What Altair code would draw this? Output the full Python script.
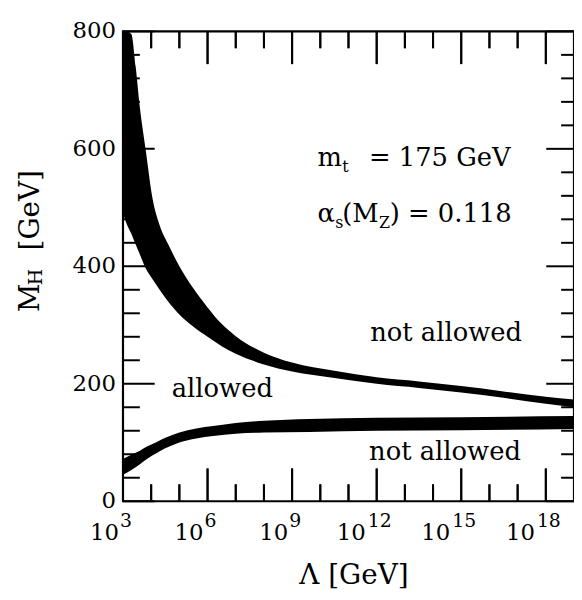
import altair as alt
import pandas as pd

FONT = "DejaVu Serif"

# ---- data ----
# upper band (triviality bound): log10(Lambda/GeV), lower and upper edge in GeV
tri_exp = [3.0, 3.15, 3.3, 3.45, 3.6, 3.8, 4.05, 4.3, 4.6, 5.0, 5.5, 6.0, 6.5, 7.0, 8.0, 9.0, 10.5, 12.0, 13.5, 15.0, 16.5, 18.0, 19.0]
tri_hi = [800, 800, 795, 740, 670, 600, 515, 470, 438, 400, 362, 330, 302, 281, 253, 236, 222, 211, 204, 196, 187, 178, 173]
tri_lo = [490, 470, 455, 437, 420, 397, 378, 360, 340, 318, 297, 280, 264, 251, 233, 221, 210, 200, 193, 185, 176, 166, 160]

# lower band (vacuum stability bound)
vac_exp = [3.0, 3.3, 3.6, 3.85, 4.2, 4.5, 5.0, 5.6, 6.2, 7.0, 8.0, 9.6, 12.0, 15.0, 19.0]
vac_lo = [45, 53, 63, 72, 82, 90, 100, 107, 111, 115, 117, 118, 120, 121, 123]
vac_hi = [72, 79, 86, 93, 101, 108, 117, 124, 128, 133, 137, 140, 142, 143, 145]

# axes
x_major_exp = [3, 6, 9, 12, 15, 18]
x_minor_exp = [4, 5, 7, 8, 10, 11, 13, 14, 16, 17]
y_major = [0, 200, 400, 600, 800]
y_minor = [40, 80, 120, 160, 240, 280, 320, 360, 440, 480, 520, 560, 640, 680, 720, 760]

# annotation texts (anchor: log10 Lambda, M_H)
region_text = ["allowed", "not allowed", "not allowed"]
region_exp = [4.73, 11.77, 11.73]
region_mh = [191, 287, 84]
param_exp = 9.9
param_mh = [584, 489]

W, H = 455, 474
X_LO, X_HI = 3, 19
Y_LO, Y_HI = 0, 800
PX_PER_DEC = W / (X_HI - X_LO)
GEV_PER_PX = (Y_HI - Y_LO) / H
HALF = 1.0  # half thickness of x ticks, px

xs = alt.Scale(type="log", domain=[10.0 ** X_LO, 10.0 ** X_HI], nice=False)
ys = alt.Scale(domain=[Y_LO, Y_HI], nice=False)

tri = pd.DataFrame({"lam": [10.0 ** e for e in tri_exp], "lo": tri_lo, "hi": tri_hi})
vac = pd.DataFrame({"lam": [10.0 ** e for e in vac_exp], "lo": vac_lo, "hi": vac_hi})

X = alt.X("lam:Q", scale=xs, axis=None)
Y = alt.Y("lo:Q", scale=ys, axis=None)

band1 = alt.Chart(tri).mark_area(color="black", clip=True, interpolate="monotone").encode(x=X, y=Y, y2="hi:Q")
band2 = alt.Chart(vac).mark_area(color="black", clip=True, interpolate="monotone").encode(x=X, y=Y, y2="hi:Q")

# y tick labels as text
ylab = alt.Chart(pd.DataFrame({"v": y_major, "t": [str(v) for v in y_major]})).mark_text(
    align="right", baseline="middle", font=FONT, fontSize=23, color="black").encode(
    x=alt.value(-7), y=alt.Y("v:Q", scale=ys, axis=None), text="t:N")

# tick marks (inward): one row per tick, start and end point
rows = []
for exps, length in [(x_major_exp, 33), (x_minor_exp, 17)]:
    d = length * GEV_PER_PX
    for e in exps:
        rows.append({"xa": 10.0 ** e, "xb": 10.0 ** e, "ya": Y_LO, "yb": Y_LO + d})
        rows.append({"xa": 10.0 ** e, "xb": 10.0 ** e, "ya": Y_HI - d, "yb": Y_HI})

for vals, length, rlength in [(y_major, 32, 28), (y_minor, 17, 13)]:
    for v in vals:
        rows.append({"xa": 10.0 ** X_LO, "xb": 10.0 ** (X_LO + length / PX_PER_DEC), "ya": v, "yb": v})
        rows.append({"xa": 10.0 ** (X_HI - rlength / PX_PER_DEC), "xb": 10.0 ** X_HI, "ya": v, "yb": v})

tickdf = pd.DataFrame(rows)
ticks = alt.Chart(tickdf).mark_rule(color="#000000", strokeWidth=2, opacity=1).encode(
    x=alt.X("xa:Q", scale=xs, axis=None), x2="xb:Q",
    y=alt.Y("ya:Q", scale=ys, axis=None), y2="yb:Q",
)

# x ticks also as thin filled rects (top and bottom edges)
vrows = []
for exps, length in [(x_major_exp, 33), (x_minor_exp, 17)]:
    d = length * GEV_PER_PX
    for e in exps:
        a, b = 10.0 ** (e - HALF / PX_PER_DEC), 10.0 ** (e + HALF / PX_PER_DEC)
        vrows.append({"ra": a, "rb": b, "sa": Y_LO, "sb": Y_LO + d})
        vrows.append({"ra": a, "rb": b, "sa": Y_HI - d, "sb": Y_HI})
vticks = alt.Chart(pd.DataFrame(vrows)).mark_rect(color="#000000").encode(
    x=alt.X("ra:Q", scale=xs, axis=None), x2="rb:Q",
    y=alt.Y("sa:Q", scale=ys, axis=None), y2="sb:Q",
)

# x tick labels 10^n
def xlabels(exps, base_dx, exp_dx):
    df = pd.DataFrame({"lam": [10.0 ** e for e in exps], "b": ["10"] * len(exps), "e": [str(e) for e in exps]})
    base = alt.Chart(df).mark_text(align="right", baseline="middle", dx=base_dx, font=FONT, fontSize=23,
                                   color="black").encode(x=alt.X("lam:Q", scale=xs, axis=None), y=alt.value(H + 32), text="b:N")
    sup = alt.Chart(df).mark_text(align="left", baseline="middle", dx=exp_dx, font=FONT, fontSize=19,
                                  color="black").encode(x=alt.X("lam:Q", scale=xs, axis=None), y=alt.value(H + 20), text="e:N")
    return base + sup

xl = xlabels([e for e in x_major_exp if e < 10], -4, -3) + xlabels([e for e in x_major_exp if e >= 10], -11, -9)

# text pieces
def piece(text, e, mh, dx=0, dy=0, size=26):
    df = pd.DataFrame({"lam": [10.0 ** e], "mh": [mh], "t": [text]})
    return alt.Chart(df).mark_text(align="left", baseline="middle", dx=dx, dy=dy, font=FONT, fontSize=size,
                                   color="black").encode(x=alt.X("lam:Q", scale=xs, axis=None),
                                                         y=alt.Y("mh:Q", scale=ys, axis=None), text="t:N")

texts = None
for t, e, m in zip(region_text, region_exp, region_mh):
    p = piece(t, e, m)
    texts = p if texts is None else texts + p

texts = (texts
         + piece("m", param_exp, param_mh[0])
         + piece("t", param_exp, param_mh[0], dx=25, dy=9, size=16)
         + piece("= 175 GeV", param_exp, param_mh[0], dx=52)
         + piece("α", param_exp, param_mh[1])
         + piece("s", param_exp, param_mh[1], dx=18, dy=9, size=16)
         + piece("(M", param_exp, param_mh[1], dx=25)
         + piece("Z", param_exp, param_mh[1], dx=62, dy=9, size=16)
         + piece(") = 0.118", param_exp, param_mh[1], dx=73))

# axis titles as text
def ptext(text, x, y, size, angle=0, align="left", baseline="alphabetic"):
    df = pd.DataFrame({"t": [text]})
    kw = dict(align=align, baseline=baseline, font=FONT, fontSize=size, color="black")
    if angle:
        kw["angle"] = angle
    return alt.Chart(df).mark_text(**kw).encode(x=alt.value(x), y=alt.value(y), text="t:N")

titles = (ptext("Λ [GeV]", 233, H + 75, 28, align="center", baseline="middle")
          + ptext("M", -85, 283, 28, angle=270)
          + ptext("H", -82, 256, 19, angle=270)
          + ptext("[GeV]", -85, 221, 28, angle=270))

chart = alt.layer(band1, band2, ylab, xl, texts, titles, vticks, ticks).properties(
    width=W, height=H,
    autosize=alt.AutoSizeParams(type="none"),
    padding={"left": 116, "top": 21, "right": 0, "bottom": 90},
).configure_view(stroke="black", strokeWidth=2.2)

chart.save("out.html", embed_options={"renderer": "svg", "actions": False})
